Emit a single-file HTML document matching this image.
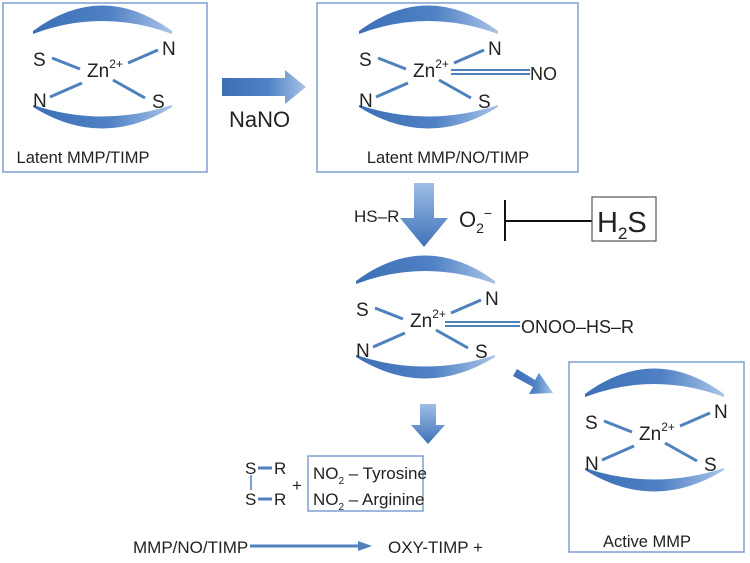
<!DOCTYPE html>
<html><head><meta charset="utf-8"><style>
html,body{margin:0;padding:0;background:#fff;}
svg{display:block;}
text{font-family:"Liberation Sans",Arial,sans-serif;}
</style></head><body>
<svg width="750" height="563" viewBox="0 0 750 563" xmlns="http://www.w3.org/2000/svg" font-family="Liberation Sans, Arial, sans-serif">
<defs>
<linearGradient id="g" x1="0" y1="0" x2="1" y2="0">
<stop offset="0" stop-color="#3d6fb5"/><stop offset="0.55" stop-color="#4f81c4"/><stop offset="1" stop-color="#a9c4e8"/>
</linearGradient>
<linearGradient id="gv" x1="0" y1="0" x2="0" y2="1">
<stop offset="0" stop-color="#9ebde6"/><stop offset="1" stop-color="#3f72b8"/>
</linearGradient>
<g id="cx">
<path d="M-54,-46 Q15,-97 85,-46 L85,-43 Q15,-69 -54,-43 Z" fill="url(#g)"/>
<path d="M-54,30 Q15,73 85,30 L85,28 Q15,51 -54,28 Z" fill="url(#g)"/>
<g stroke="#4f81bd" stroke-width="3">
<line x1="-35" y1="-19" x2="-7" y2="-8"/>
<line x1="41" y1="-14" x2="71" y2="-27"/>
<line x1="-37" y1="20" x2="-5" y2="6"/>
<line x1="26" y1="3" x2="58" y2="21"/>
</g>
<g font-size="19" fill="#222">
<text x="0" y="0">Zn<tspan font-size="12" dy="-9">2+</tspan></text>
<text x="-54" y="-11">S</text>
<text x="75" y="-22">N</text>
<text x="-54" y="30">N</text>
<text x="65" y="31">S</text>
</g>
</g>
</defs>
<g fill="none" stroke="#7f9fd0" stroke-width="1.5">
<rect x="3" y="3" width="204" height="169"/>
<rect x="317" y="3" width="261" height="169"/>
<rect x="569" y="362" width="175" height="190"/>
<rect x="308" y="456" width="115" height="55"/>
</g>
<use href="#cx" x="87" y="77"/>
<use href="#cx" x="413" y="77"/>
<use href="#cx" x="410" y="327"/>
<use href="#cx" x="639" y="440"/>
<g font-size="16.5" fill="#222" text-anchor="middle">
<text x="83" y="163">Latent MMP/TIMP</text>
<text x="448" y="163">Latent MMP/NO/TIMP</text>
<text x="647" y="547">Active MMP</text>
</g>
<g stroke="#4f81bd" stroke-width="2">
<line x1="451" y1="70" x2="530" y2="70"/><line x1="451" y1="74" x2="530" y2="74"/>
<line x1="445" y1="322" x2="520" y2="322"/><line x1="445" y1="326" x2="520" y2="326"/>
</g>
<text x="530" y="80" font-size="18" fill="#222">NO</text>
<text x="521" y="333" font-size="18" fill="#222">ONOO–HS–R</text>
<path d="M222,78 H285 V70 L306,87 L285,104 V96 H222 Z" fill="url(#g)"/>
<text x="229" y="127" font-size="22" fill="#222">NaNO</text>
<path d="M414,183 H434 V218 H448 L424,247 L400,218 H414 Z" fill="url(#gv)"/>
<text x="354" y="222" font-size="17" fill="#222">HS–R</text>
<text x="459" y="227" font-size="22" fill="#222">O<tspan font-size="14" dy="6">2</tspan><tspan font-size="14" dy="-15">−</tspan></text>
<line x1="505" y1="200" x2="505" y2="241" stroke="#111" stroke-width="2"/>
<line x1="505" y1="221" x2="592" y2="221" stroke="#111" stroke-width="2"/>
<rect x="592" y="197" width="64" height="44" fill="#fff" stroke="#555" stroke-width="1.2"/>
<text x="597" y="232" font-size="29" fill="#222">H<tspan font-size="17" dy="7">2</tspan><tspan dy="-7">S</tspan></text>
<path d="M517,369 L535,380 L539,373 L553,393 L529,394 L533,387 L513,376 Z" fill="url(#g)"/>
<path d="M420,404 H436 V425 H445 L428,444 L411,425 H420 Z" fill="url(#gv)"/>
<g font-size="17" fill="#222">
<text x="245" y="474">S</text><text x="274" y="474">R</text>
<text x="245" y="505">S</text><text x="274" y="505">R</text>
<text x="292" y="491">+</text>
<text x="313" y="479">NO<tspan font-size="10" dy="5">2</tspan><tspan dy="-5"> – Tyrosine</tspan></text>
<text x="313" y="505">NO<tspan font-size="10" dy="5">2</tspan><tspan dy="-5"> – Arginine</tspan></text>
<text x="133" y="553">MMP/NO/TIMP</text>
<text x="388" y="553">OXY-TIMP  +</text>
</g>
<g stroke="#4f81bd" stroke-width="3">
<line x1="258" y1="468" x2="272" y2="468"/>
<line x1="258" y1="499" x2="272" y2="499"/>
</g>
<line x1="251" y1="475" x2="251" y2="490" stroke="#4f81bd" stroke-width="1.5"/>
<line x1="250" y1="546" x2="360" y2="546" stroke="#4f81bd" stroke-width="3"/>
<path d="M358,541 L372,546 L358,551 Z" fill="#4f81bd"/>
</svg>
</body></html>
